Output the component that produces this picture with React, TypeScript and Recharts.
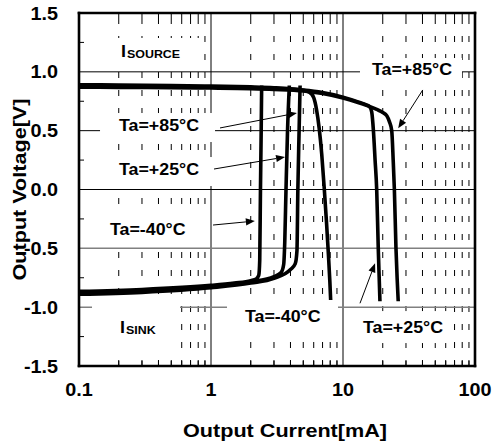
import React from 'react';
import { LineChart, Line, XAxis, YAxis, ReferenceLine, ReferenceDot, Label } from 'recharts';

type Pt = { x: number; y: number };
const pts = (arr: number[][]): Pt[] => arr.map(([x, y]) => ({ x, y }));

// Axis ticks
const xMajorTicks = [0.1, 1, 10, 100];
const xMinorTicks = [0.2, 0.3, 0.4, 0.5, 0.6, 0.7, 0.8, 0.9, 2, 3, 4, 5, 6, 7, 8, 9, 20, 30, 40, 50, 60, 70, 80, 90];
const yMajorTicks = [-1.5, -1, -0.5, 0, 0.5, 1, 1.5];
const yMinorTicks = [-1.25, -0.75, -0.25, 0.25, 0.75, 1.25];

// Source curves (output voltage vs source current)
const sourceM40 = pts([[0.1, 0.89], [0.2, 0.888], [0.5, 0.884], [1, 0.879], [2, 0.872], [3, 0.865], [4, 0.856], [5, 0.843], [5.6, 0.825], [6.0, 0.78], [6.3, 0.68], [6.6, 0.52], [6.9, 0.3], [7.2, 0.02], [7.5, -0.28], [7.75, -0.55], [7.95, -0.78], [8.07, -0.95]]);
const sourceP25 = pts([[0.1, 0.88], [0.2, 0.878], [0.5, 0.874], [1, 0.87], [2, 0.864], [3, 0.858], [5, 0.845], [7, 0.824], [10, 0.785], [13, 0.745], [15, 0.72], [16, 0.7], [16.5, 0.66], [17, 0.5], [17.5, 0.25], [18, 0.0], [18.5, -0.5], [18.8, -0.75], [19.05, -0.95]]);
const sourceP85 = pts([[0.1, 0.87], [0.2, 0.868], [0.5, 0.865], [1, 0.862], [2, 0.857], [3, 0.851], [5, 0.838], [7, 0.816], [10, 0.778], [13, 0.74], [16, 0.705], [18, 0.68], [20, 0.655], [21.5, 0.625], [22.5, 0.575], [23.4, 0.5], [24, 0.25], [24.5, 0.0], [25.2, -0.5], [25.7, -0.75], [26.2, -0.95]]);

// Sink curves
const sinkM40 = pts([[0.1, -0.866], [0.3, -0.85], [1, -0.815], [1.5, -0.795], [2.0, -0.775], [2.2, -0.76], [2.3, -0.73], [2.34, -0.6], [2.37, 0], [2.4, 0.5], [2.42, 0.884]]);
const sinkP25 = pts([[0.1, -0.878], [0.3, -0.862], [1, -0.825], [2, -0.785], [3, -0.74], [3.4, -0.705], [3.55, -0.64], [3.62, -0.45], [3.7, 0], [3.8, 0.5], [3.92, 0.884]]);
const sinkP85 = pts([[0.1, -0.89], [0.3, -0.874], [1, -0.835], [2, -0.795], [3, -0.755], [4, -0.68], [4.35, -0.63], [4.48, -0.52], [4.55, 0], [4.65, 0.5], [4.73, 0.884]]);

const curves = [sourceM40, sourceP25, sourceP85, sinkM40, sinkP25, sinkP85];

// Annotations (anchor in data units)
const annotations = [
  { main: 'I', sub: 'SOURCE', x: 0.208, y: 1.122, box: [-13, -19.5, 92, 30] },
  { main: 'Ta=+85°C', sub: '', x: 0.201, y: 0.497, box: [-19, -18, 115, 29] },
  { main: 'Ta=+25°C', sub: '', x: 0.201, y: 0.123, box: [-19, -18, 113, 29] },
  { main: 'Ta=-40°C', sub: '', x: 0.1718, y: -0.387, box: [-12, -20, 112, 31] },
  { main: 'I', sub: 'SINK', x: 0.2045, y: -1.22, box: [-28, -33, 88, 48] },
  { main: 'Ta=-40°C', sub: '', x: 1.81, y: -1.126, box: [-18, -22, 111, 38] },
  { main: 'Ta=+25°C', sub: '', x: 14.17, y: -1.22, box: [-11, -22, 100, 32] },
  { main: 'Ta=+85°C', sub: '', x: 16.58, y: 0.973, box: [-12, -17, 102, 27] },
];

const arrows = [
  { from: [1.17, 0.523], to: [4.48, 0.65] },
  { from: [1.054, 0.174], to: [3.64, 0.276] },
  { from: [1.036, -0.302], to: [2.15, -0.268] },
  { from: [40.2, 0.846], to: [26.2, 0.52] },
  { from: [13.45, -0.967], to: [17.5, -0.627] },
];

const FONT = "'Liberation Sans', Arial, Helvetica, sans-serif";
const PLOT_H = 353;

const SText = ({ x, y, anchor, size, sx = 1.15, rotate, children }: any) => (
  <text
    transform={`translate(${x},${y})${rotate ? ` rotate(${rotate})` : ''} scale(${sx},1)`}
    textAnchor={anchor}
    fontSize={size}
    fontWeight="bold"
    fontFamily={FONT}
    fill="#000"
  >
    {children}
  </text>
);

const XTick = (props: any) => {
  const { x, y, payload } = props;
  const v = payload.value;
  const major = xMajorTicks.includes(v);
  if (major) {
    return <SText x={x} y={y + 30} anchor="middle" size={18} sx={1.1}>{String(v)}</SText>;
  }
  return (
    <g>
      <line x1={x} x2={x} y1={y} y2={y - 5} stroke="#000" strokeWidth={1} />
      <line x1={x} x2={x} y1={y - PLOT_H} y2={y - PLOT_H + 5} stroke="#000" strokeWidth={1} />
    </g>
  );
};

const YTick = (props: any) => {
  const { x, y, payload } = props;
  const v = payload.value;
  const major = yMajorTicks.some((t) => Math.abs(t - v) < 1e-9);
  if (major) {
    return <SText x={x - 21} y={y + 6.5} anchor="end" size={18} sx={1.1}>{v.toFixed(1)}</SText>;
  }
  return <line x1={x} x2={x + 5} y1={y} y2={y} stroke="#000" strokeWidth={1} />;
};

const ArrowShape = (p: any) => {
  const { x1, y1, x2, y2 } = p;
  const ang = Math.atan2(y2 - y1, x2 - x1);
  const L = 9;
  const W = 3.6;
  const c = Math.cos(ang);
  const s = Math.sin(ang);
  const bx = x2 - L * c;
  const by = y2 - L * s;
  const pts2 = `${x2},${y2} ${bx - W * s},${by + W * c} ${bx + W * s},${by - W * c}`;
  return (
    <g>
      <line x1={x1} y1={y1} x2={bx} y2={by} stroke="#000" strokeWidth={1} />
      <polygon points={pts2} fill="#000" />
    </g>
  );
};

const makeLabelShape = (a: any) => (p: any) => {
  const { cx, cy } = p;
  const [bx, by, bw, bh] = a.box;
  return (
    <g>
      <rect x={cx + bx} y={cy + by} width={bw} height={bh} fill="#fff" />
      <text
        transform={`translate(${cx},${cy}) scale(1.08,1)`}
        fontSize={16.5}
        fontWeight="bold"
        fontFamily={FONT}
        fill="#000"
      >
        {a.main}
        {a.sub ? <tspan fontSize={11.5} dx={1} dy={0.5}>{a.sub}</tspan> : null}
      </text>
    </g>
  );
};

export default function App() {
  const allXTicks = [...xMajorTicks, ...xMinorTicks].sort((a, b) => a - b);
  const allYTicks = [...yMajorTicks, ...yMinorTicks].sort((a, b) => a - b);
  return (
    <div style={{ position: 'absolute', left: 0, top: 0, width: 493, height: 447, background: '#fff' }}>
      <LineChart width={493} height={447} margin={{ top: 13, right: 18, bottom: 0, left: 0 }}>
        <XAxis
          dataKey="x"
          type="number"
          scale="log"
          domain={[0.1, 100]}
          ticks={allXTicks}
          interval={0}
          tick={<XTick />}
          tickSize={0}
          tickMargin={0}
          axisLine={false}
          tickLine={false}
          height={81}
          allowDataOverflow
        >
          <Label
            content={(p: any) => {
              const vb = p.viewBox || { x: 79, y: 366, width: 396, height: 81 };
              return <SText x={vb.x + vb.width / 2 + 8} y={vb.y + 71} anchor="middle" size={18} sx={1.2}>Output Current[mA]</SText>;
            }}
          />
        </XAxis>
        <YAxis
          type="number"
          domain={[-1.5, 1.5]}
          ticks={allYTicks}
          interval={0}
          tick={<YTick />}
          tickSize={0}
          tickMargin={0}
          axisLine={false}
          tickLine={false}
          width={79}
          allowDataOverflow
        >
          <Label
            content={(p: any) => {
              const vb = p.viewBox || { x: 0, y: 13, width: 79, height: 353 };
              return <SText x={vb.x + 26} y={vb.y + vb.height / 2} rotate={-90} anchor="middle" size={18} sx={1.2}>Output Voltage[V]</SText>;
            }}
          />
        </YAxis>

        {/* grid */}
        {xMinorTicks.map((v) => (
          <ReferenceLine key={`gx${v}`} x={v} stroke="#000" strokeWidth={1} strokeDasharray="6 12" />
        ))}
        <ReferenceLine x={1} stroke="#000" strokeWidth={1} />
        <ReferenceLine x={10} stroke="#000" strokeWidth={1} />
        <ReferenceLine y={1} stroke="#000" strokeWidth={1} />
        <ReferenceLine y={0.5} stroke="#000" strokeWidth={1} />
        <ReferenceLine y={0} stroke="#000" strokeWidth={1} />
        <ReferenceLine y={-0.5} stroke="#808080" strokeWidth={1.5} />
        <ReferenceLine y={-1} stroke="#808080" strokeWidth={1.5} />

        {curves.map((d, i) => (
          <Line
            key={`c${i}`}
            data={d}
            dataKey="y"
            type="monotone"
            stroke="#000"
            strokeWidth={3.6}
            dot={false}
            activeDot={false}
            isAnimationActive={false}
          />
        ))}

        {annotations.map((a, i) => (
          <ReferenceDot key={`a${i}`} x={a.x} y={a.y} r={0} shape={makeLabelShape(a)} />
        ))}

        {arrows.map((ar, i) => (
          <ReferenceLine
            key={`ar${i}`}
            segment={[{ x: ar.from[0], y: ar.from[1] }, { x: ar.to[0], y: ar.to[1] }]}
            shape={ArrowShape}
          />
        ))}

        {/* frame */}
        <ReferenceLine y={1.5} stroke="#000" strokeWidth={2.6} strokeLinecap="square" />
        <ReferenceLine y={-1.5} stroke="#000" strokeWidth={2.6} strokeLinecap="square" />
        <ReferenceLine x={0.1} stroke="#000" strokeWidth={2.6} strokeLinecap="square" />
        <ReferenceLine x={100} stroke="#000" strokeWidth={2.6} strokeLinecap="square" />
      </LineChart>
    </div>
  );
}
